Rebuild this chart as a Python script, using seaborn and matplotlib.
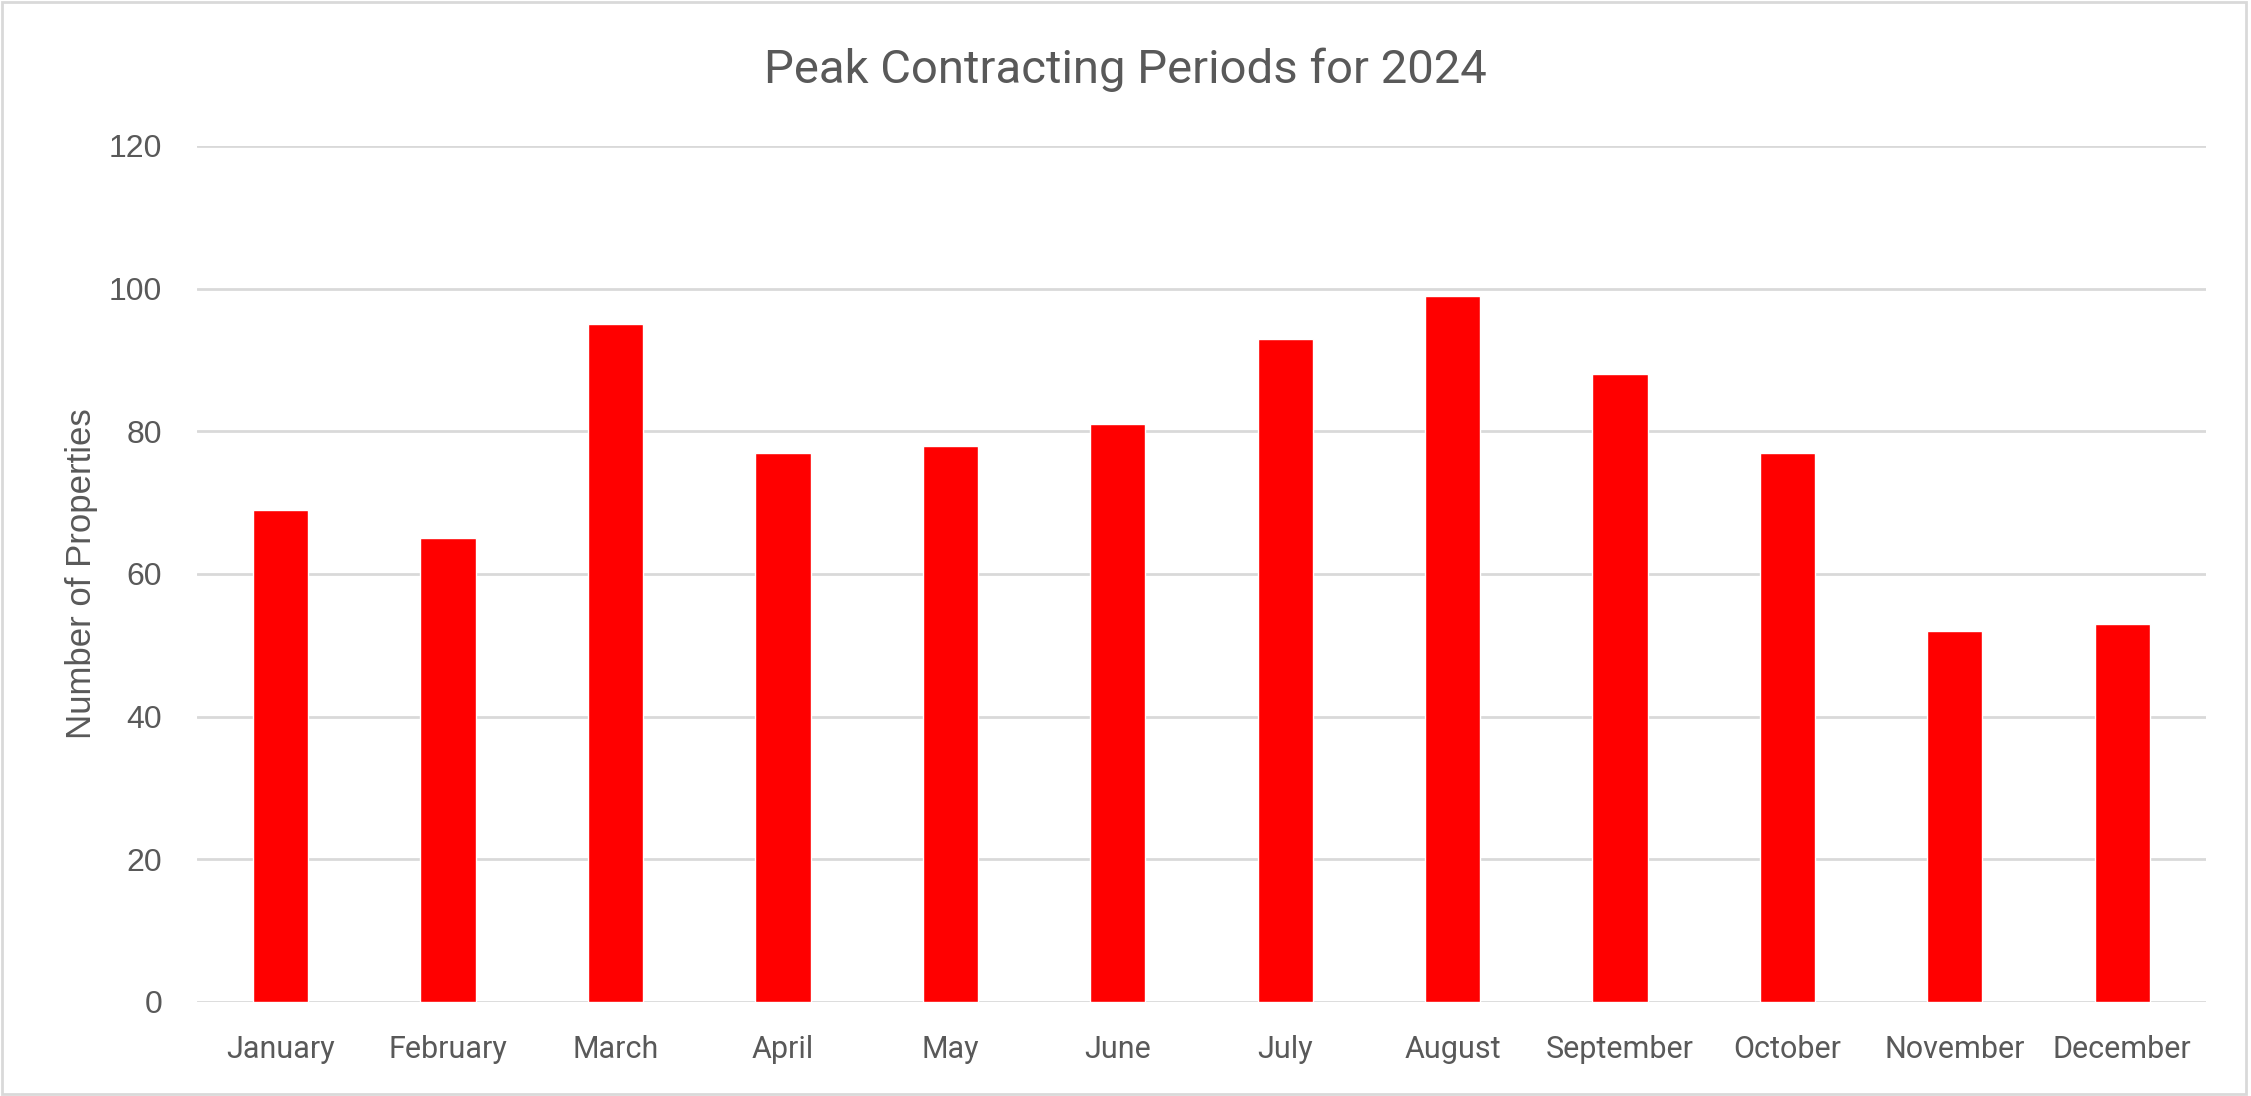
import matplotlib
matplotlib.use("Agg")
import matplotlib.pyplot as plt
import seaborn as sns
import pandas as pd
from matplotlib.patches import Rectangle

sns.set_theme(style="white")

# ── Data ─────────────────────────────────────────────────────────────────────
months = ["January", "February", "March", "April", "May", "June",
          "July", "August", "September", "October", "November", "December"]
properties = [69, 65, 95, 77, 78, 81, 93, 99, 88, 77, 52, 53]
y_ticks = [0, 20, 40, 60, 80, 100, 120]

df = pd.DataFrame({"month": months, "properties": properties})

text_col = "#595959"
grid_col = "#d9d9d9"

# ── Figure ───────────────────────────────────────────────────────────────────
fig = plt.figure(figsize=(22.51, 10.96), dpi=100)
ax = fig.add_axes([0.0875, 0.0858, 0.8925, 0.781])

sns.barplot(data=df, x="month", y="properties", color="#ff0000",
            width=0.33, ax=ax, saturation=1, zorder=3)

ax.set_ylim(0, 120)
ax.set_yticks(y_ticks)
ax.set_xlim(-0.5, len(months) - 0.5)
ax.yaxis.grid(True, color=grid_col, linewidth=2, zorder=0)
ax.set_axisbelow(True)
for s in ax.spines.values():
    s.set_visible(False)

ax.tick_params(axis="both", length=0)
ax.tick_params(axis="x", pad=24, labelsize=22, labelcolor=text_col)
ax.tick_params(axis="y", pad=25, labelsize=23, labelcolor=text_col)
for lbl in ax.get_xticklabels():
    lbl.set_family("Roboto")
for lbl in ax.get_yticklabels():
    lbl.set_family("Liberation Sans")

ax.set_xlabel("")
ax.set_ylabel("Number of Properties", fontsize=25, color=text_col,
              family="Liberation Sans", labelpad=8)

fig.text(0.5, 0.936, "Peak Contracting Periods for 2024", ha="center", va="center",
         fontsize=34, color=text_col, family="Roboto")

# light border round the chart area
fig.patches.append(Rectangle((0.001, 0.002), 0.997, 0.996, transform=fig.transFigure,
                             fill=False, edgecolor="#d9d9d9", linewidth=2))

plt.savefig("out.png", dpi=100)
plt.close()
